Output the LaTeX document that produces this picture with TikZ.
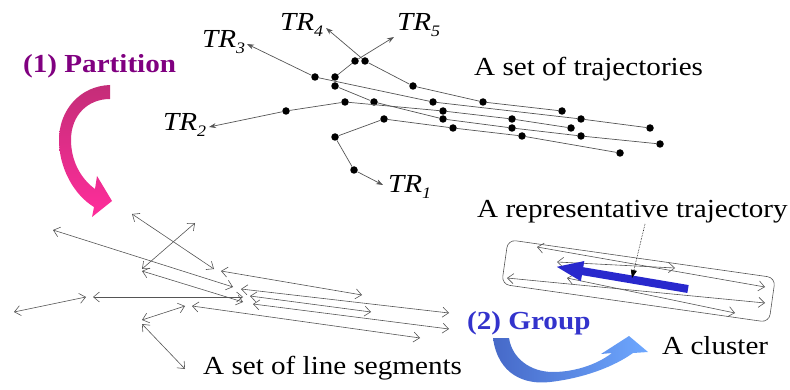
\documentclass[tikz,border=0pt]{standalone}
\usepackage{fontspec}
\setmainfont[FakeStretch=1.12]{Liberation Serif}
\usetikzlibrary{arrows.meta}
\definecolor{partcol}{RGB}{128,0,128}
\definecolor{grpcol}{RGB}{51,51,204}
\definecolor{segcol}{RGB}{85,85,85}
\definecolor{repblue}{RGB}{40,40,205}
\newcommand{\trsub}[1]{\raisebox{-6pt}{\fontsize{16}{16}\selectfont\itshape #1}}
\begin{document}
\begin{tikzpicture}[x=1pt,y=-1pt,
  dot/.style={circle,fill=black,inner sep=0pt,minimum size=7.5pt},
  traj/.style={draw=segcol,line width=0.7pt},
  trtip/.style={-{Stealth[length=7pt,width=5pt]}},
  seg/.style={draw=segcol,line width=0.6pt,{Straight Barb[length=6pt,width=10pt]}-{Straight Barb[length=6pt,width=10pt]}},
  lbl/.style={font=\fontsize{26}{30}\selectfont,inner sep=0pt,anchor=base west},
  trlbl/.style={font=\fontsize{26}{30}\selectfont\itshape,inner sep=0pt,anchor=base west},
]
\useasboundingbox (0,0) rectangle (790,390);

% ---------- trajectories ----------
\node[dot] (a1) at (433,102) {};
\node[dot] (a2) at (581,119) {};
\node[dot] (a3) at (650,128) {};
\node[dot] (b1) at (413,86) {};
\node[dot] (b2) at (483,102) {};
\node[dot] (b3) at (562,111) {};
\node[dot] (c1) at (443,111) {};
\node[dot] (c2) at (512,119) {};
\node[dot] (c3) at (571,128) {};
\node[dot] (d1) at (443,119) {};
\node[dot] (d2) at (512,128) {};
\node[dot] (d3) at (581,136) {};
\node[dot] (d4) at (660,144) {};
\node[dot] (e1) at (453,128) {};
\node[dot] (e2) at (522,136) {};
\node[dot] (e3) at (620,153) {};
\node[dot] (p1) at (384,119) {};
\node[dot] (p2) at (335,137) {};
\node[dot] (p3) at (354,170) {};
\node[dot] (q1) at (345,102) {};
\node[dot] (q2) at (286,111) {};
\node[dot] (r1) at (315,77) {};
\node[dot] (s1) at (374,102) {};
\node[dot] (s2) at (335,86) {};
\node[dot] (s3) at (335,77) {};
\node[dot] (s4) at (355,61) {};
\node[dot] (u1) at (365,61) {};

\coordinate (t1) at (383,185);
\coordinate (t2) at (209,127);
\coordinate (t3) at (247,44);
\coordinate (t4) at (326,28);
\coordinate (t5) at (394,37);

\draw[traj,trtip] (e3) -- (e2) -- (e1) -- (p1) -- (p2) -- (p3) -- (t1);
\draw[traj,trtip] (c3) -- (c2) -- (c1) -- (q1) -- (q2) -- (t2);
\draw[traj,trtip] (a3) -- (a2) -- (a1) -- (r1) -- (t3);
\draw[traj,trtip] (b3) -- (b2) -- (b1) -- (u1) -- (t4);
\draw[traj,trtip] (d4) -- (d3) -- (d2) -- (d1) -- (s1) -- (s2) -- (s3) -- (s4) -- (t5);

\node[trlbl] (l1) at (388,193) {TR\trsub{1}};
\node[trlbl] (l2) at (163,131) {TR\trsub{2}};
\node[trlbl] (l3) at (202,48) {TR\trsub{3}};
\node[trlbl] (l4) at (280,31) {TR\trsub{4}};
\node[trlbl] (l5) at (397,31) {TR\trsub{5}};

\node[lbl] (settraj) at (474,76) {A set of trajectories};
\node[lbl,font=\fontsize{26}{30}\selectfont\bfseries,text=partcol] (part) at (23,73) {(1) Partition};

% ---------- partition arrow ----------
\shade[top color={rgb,255:red,196;green,45;blue,120},bottom color={rgb,255:red,255;green,45;blue,155}]
  (110,85) .. controls (80,86) and (59,110) .. (59,140)
  .. controls (59,168) and (74,195) .. (94,207)
  -- (92,217) -- (112,201) -- (97,176) -- (95,189)
  .. controls (80,178) and (71,160) .. (71,140)
  .. controls (71,115) and (88,99) .. (110,99) -- cycle;

% ---------- line segments ----------
\draw[seg] (53,230) -- (233,287);
\draw[seg] (132,214) -- (214,269);
\draw[seg] (195,223) -- (142,269);
\draw[seg] (142,271) -- (243,302);
\draw[seg] (14,312) -- (86,297);
\draw[seg] (93,297) -- (243,297);
\draw[seg] (142,320) -- (185,306);
\draw[seg] (142,324) -- (185,369);
\draw[seg] (192,306) -- (420,338);
\draw[seg] (221,271) -- (362,295);
\draw[seg] (241,289) -- (449,313);
\draw[seg] (250,296) -- (371,312);
\draw[seg] (253,304) -- (449,329);

\node[lbl] (setseg) at (203,374) {A set of line segments};

% ---------- group ----------
\node[lbl,font=\fontsize{26}{30}\selectfont\bfseries,text=grpcol] (grp) at (467,329) {(2) Group};
\shade[left color={rgb,255:red,70;green,105;blue,200},right color={rgb,255:red,110;green,168;blue,255}]
  (493,338) .. controls (498,375) and (525,385) .. (550,382)
  .. controls (585,378) and (615,366) .. (633,353)
  -- (648,352) -- (629,336) -- (601,354) -- (612,353)
  .. controls (595,366) and (572,372) .. (553,372)
  .. controls (530,372) and (512,358) .. (509,338) -- cycle;
\node[lbl] (clus) at (662,354) {A cluster};

% ---------- cluster ----------
\node[draw=segcol,line width=0.6pt,rounded corners=8pt,minimum width=270pt,minimum height=45pt,rotate=-8.1] (box) at (638.5,281) {};
\draw[seg] (537,247) -- (765,287);
\draw[seg] (557,262) -- (675,268);
\draw[seg] (507,278) -- (765,303);
\draw[seg] (567,278) -- (735,313);
\draw[repblue,line width=8pt,-{Triangle[length=28pt,width=18pt]}] (688,289) -- (555,266.5);
\node[lbl] (rep) at (477,218) {A representative trajectory};
\coordinate (reptop) at (645,224);
\coordinate (repend) at (632,278);
\draw[densely dotted,line width=0.6pt,-{Triangle[length=8pt,width=6pt]}] (reptop) -- (repend);
\end{tikzpicture}
\end{document}
